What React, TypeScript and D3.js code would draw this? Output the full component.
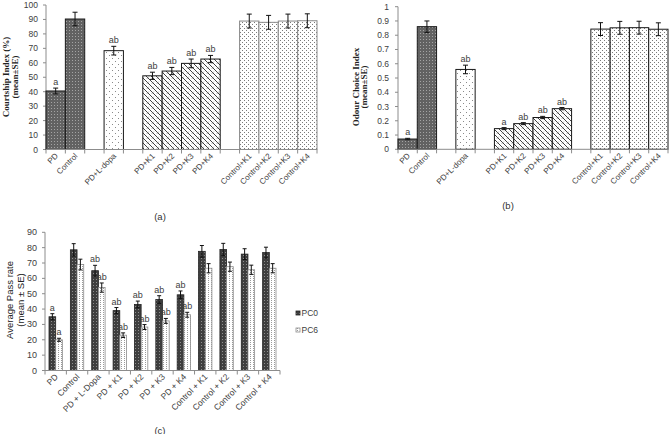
import React from "react";
import * as d3 from "d3";

// ---------- data: panels (a) and (b) ----------
const catsAB = ["PD", "Control", "", "PD+L-dopa", "", "PD+K1", "PD+K2", "PD+K3", "PD+K4", "", "Control+K1", "Control+K2", "Control+K3", "Control+K4"];
const groupAB = ["pd", "ctrl", "", "ldopa", "", "k", "k", "k", "k", "", "ck", "ck", "ck", "ck"];

const courtship = [40.5, 90.3, null, 68.4, null, 51, 54.3, 59.6, 62.6, null, 88.9, 88, 88.9, 89.1];
const courtshipErr = [2, 4.7, null, 3, null, 2.5, 2.5, 3, 2.5, null, 4.8, 4.8, 4.8, 4.8];
const courtshipSig = ["a", "", "", "ab", "", "ab", "ab", "ab", "ab", "", "", "", "", ""];
const courtshipTicks = [0, 10, 20, 30, 40, 50, 60, 70, 80, 90, 100];

const odour = [0.072, 0.86, null, 0.56, null, 0.145, 0.18, 0.223, 0.285, null, 0.843, 0.852, 0.853, 0.842];
const odourErr = [0.005, 0.04, null, 0.03, null, 0.007, 0.007, 0.008, 0.008, null, 0.045, 0.045, 0.045, 0.045];
const odourSig = ["a", "", "", "ab", "", "a", "ab", "ab", "ab", "", "", "", "", ""];
const odourTicks = [0, 0.1, 0.2, 0.3, 0.4, 0.5, 0.6, 0.7, 0.8, 0.9, 1];

// ---------- data: panel (c) ----------
const catsC = ["PD", "Control", "PD + L-Dopa", "PD + K1", "PD + K2", "PD + K3", "PD + K4", "Control + K1", "Control + K2", "Control + K3", "Control + K4"];
const seriesC = ["PC0", "PC6"];
const pc0 = [35, 78.6, 65, 39, 43, 46.2, 49.3, 77.6, 78.8, 75.8, 76.8];
const pc0Err = [2, 4, 3.5, 2, 2.2, 2.5, 2.5, 3.8, 4, 3.5, 3.5];
const pc0Sig = ["a", "", "ab", "ab", "ab", "ab", "ab", "", "", "", ""];
const pc6 = [20, 69, 54, 23, 28.3, 32.3, 36.3, 66.6, 67.6, 65.6, 66.6];
const pc6Err = [1, 3.5, 3, 1.5, 1.6, 1.6, 1.6, 3, 3, 3, 3];
const pc6Sig = ["a", "", "ab", "ab", "ab", "ab", "ab", "", "", "", ""];
const passTicks = [0, 10, 20, 30, 40, 50, 60, 70, 80, 90];

const SANS = "'Liberation Sans', Arial, sans-serif";
const SERIF = "'Liberation Serif', 'Times New Roman', serif";
const TXT = "#404040";
const AX = "#8c8c8c";

const fillFor: Record<string, string> = {
  pd: "url(#pDark)",
  ctrl: "url(#pDark)",
  ldopa: "url(#pSparse)",
  k: "url(#pHatch)",
  ck: "url(#pDense)",
};

function Patterns() {
  return (
    <defs>
      <pattern id="pDark" width="3" height="3" patternUnits="userSpaceOnUse">
        <rect width="3" height="3" fill="#626262" />
        <rect width="1" height="1" fill="#a4a4a4" />
      </pattern>
      <pattern id="pSparse" width="6" height="6" patternUnits="userSpaceOnUse">
        <rect width="6" height="6" fill="#fff" />
        <rect x="1" y="1" width="1" height="1" fill="#8a8a8a" />
        <rect x="4" y="4" width="1" height="1" fill="#8a8a8a" />
      </pattern>
      <pattern id="pHatch" width="5" height="5" patternUnits="userSpaceOnUse">
        <rect width="5" height="5" fill="#fff" />
        <path d="M0,0 L5,5 M-1,4 L1,6 M4,-1 L6,1" stroke="#2a2a2a" strokeWidth="0.9" />
        <path d="M1.5,4 L4,1.5" stroke="#888" strokeWidth="0.6" />
      </pattern>
      <pattern id="pDense" width="4" height="4" patternUnits="userSpaceOnUse">
        <rect width="4" height="4" fill="#fff" />
        <rect x="0" y="0" width="1" height="1" fill="#7a7a7a" />
        <rect x="2" y="2" width="1" height="1" fill="#7a7a7a" />
      </pattern>
      <pattern id="pC0" width="3" height="3" patternUnits="userSpaceOnUse">
        <rect width="3" height="3" fill="#3e3e3e" />
        <rect width="1" height="1" fill="#8e8e8e" />
      </pattern>
      <pattern id="pC6" width="3" height="2" patternUnits="userSpaceOnUse">
        <rect width="3" height="2" fill="#fff" />
        <rect x="1" y="0" width="1" height="1" fill="#9a9a9a" />
      </pattern>
    </defs>
  );
}

type SingleProps = {
  x0: number; x1: number; yTop: number; yBottom: number;
  max: number; ticks: number[]; fmt: (v: number) => string;
  values: (number | null)[]; errs: (number | null)[]; sigs: string[];
  label1: string; label2: string; lx1: number; lx2: number; ly: number;
  ckStroke: string; tickRight: number;
};

function SinglePanel(p: SingleProps) {
  const x = d3.scaleBand<number>().domain(d3.range(catsAB.length)).range([p.x0, p.x1]).padding(0);
  const y = d3.scaleLinear().domain([0, p.max]).range([p.yBottom, p.yTop]);
  const bw = x.bandwidth();
  return (
    <g>
      {/* y axis label */}
      <text transform={`translate(${p.lx1},${p.ly}) rotate(-90)`} textAnchor="middle" dominantBaseline="central"
        fontFamily={SERIF} fontWeight="bold" fontSize={9} fill="#222">{p.label1}</text>
      <text transform={`translate(${p.lx2},${p.ly}) rotate(-90)`} textAnchor="middle" dominantBaseline="central"
        fontFamily={SERIF} fontWeight="bold" fontSize={9} fill="#222">{p.label2}</text>
      {/* y ticks */}
      {p.ticks.map((t) => (
        <g key={t}>
          <line x1={p.x0 - 3} x2={p.x0} y1={y(t)} y2={y(t)} stroke={AX} />
          <text x={p.tickRight} y={y(t)} textAnchor="end" dominantBaseline="central" fontFamily={SANS} fontSize={8.5} fill={TXT}>{p.fmt(t)}</text>
        </g>
      ))}
      <line x1={p.x0} x2={p.x0} y1={y(p.max)} y2={p.yBottom} stroke={AX} />
      {/* bars */}
      {p.values.map((v, i) => {
        if (v == null) return null;
        const g = groupAB[i];
        const top = y(v);
        const e = p.errs[i] ?? 0;
        const cx = (x(i) as number) + bw / 2;
        return (
          <g key={i}>
            <rect x={x(i)} y={top} width={bw} height={p.yBottom - top} fill={fillFor[g]}
              stroke={g === "ck" ? p.ckStroke : "#1a1a1a"} strokeWidth={1} />
            <line x1={cx} x2={cx} y1={y(v + e)} y2={y(v - e)} stroke="#111" />
            <line x1={cx - 2.5} x2={cx + 2.5} y1={y(v + e)} y2={y(v + e)} stroke="#111" />
            <line x1={cx - 2.5} x2={cx + 2.5} y1={y(v - e)} y2={y(v - e)} stroke="#111" />
            {p.sigs[i] && (
              <text x={cx} y={y(v + e) - 3} textAnchor="middle" fontFamily={SANS} fontSize={9} fill={TXT}>{p.sigs[i]}</text>
            )}
          </g>
        );
      })}
      {/* x axis */}
      <line x1={p.x0} x2={p.x1} y1={p.yBottom} y2={p.yBottom} stroke={AX} />
      {d3.range(catsAB.length + 1).map((i) => {
        const xx = p.x0 + i * bw;
        return <line key={i} x1={xx} x2={xx} y1={p.yBottom} y2={p.yBottom + 4} stroke={AX} />;
      })}
      {catsAB.map((c, i) => c && (
        <text key={i} transform={`translate(${(x(i) as number) + bw / 2 + 3},${p.yBottom + 7}) rotate(-45)`}
          textAnchor="end" fontFamily={SANS} fontSize={8} fill={TXT}>{c}</text>
      ))}
    </g>
  );
}

function PanelC() {
  const x0 = 45, x1 = 280, yTop = 232.3, yBottom = 370.5;
  const x = d3.scaleBand<string>().domain(catsC).range([x0, x1]).padding(0);
  const xs = d3.scaleBand<string>().domain(seriesC).range([0, x.bandwidth()]).paddingInner(0).paddingOuter(0.6);
  const y = d3.scaleLinear().domain([0, 90]).range([yBottom, yTop]);
  const sw = xs.bandwidth();
  const series = [
    { name: "PC0", vals: pc0, errs: pc0Err, sigs: pc0Sig, fill: "url(#pC0)", stroke: "#222" },
    { name: "PC6", vals: pc6, errs: pc6Err, sigs: pc6Sig, fill: "url(#pC6)", stroke: "#8a8a8a" },
  ];
  return (
    <g>
      <text transform={`translate(9,300) rotate(-90)`} textAnchor="middle" dominantBaseline="central"
        fontFamily={SANS} fontSize={9.5} fill="#222">Average Pass rate</text>
      <text transform={`translate(20,300) rotate(-90)`} textAnchor="middle" dominantBaseline="central"
        fontFamily={SANS} fontSize={9.5} fill="#222">(mean ± SE)</text>
      {passTicks.map((t) => (
        <g key={t}>
          <line x1={x0 - 3} x2={x0} y1={y(t)} y2={y(t)} stroke={AX} />
          <text x={37} y={y(t)} textAnchor="end" dominantBaseline="central" fontFamily={SANS} fontSize={9} fill={TXT}>{t}</text>
        </g>
      ))}
      <line x1={x0} x2={x0} y1={yTop} y2={yBottom} stroke={AX} />
      {catsC.map((c, i) =>
        series.map((s) => {
          const bx = (x(c) as number) + (xs(s.name) as number);
          const v = s.vals[i], e = s.errs[i];
          const cx = bx + sw / 2;
          return (
            <g key={c + s.name}>
              <rect x={bx} y={y(v)} width={sw} height={yBottom - y(v)} fill={s.fill} stroke={s.stroke} strokeWidth={0.8} />
              <line x1={cx} x2={cx} y1={y(v + e)} y2={y(v - e)} stroke="#111" />
              <line x1={cx - 2} x2={cx + 2} y1={y(v + e)} y2={y(v + e)} stroke="#111" />
              <line x1={cx - 2} x2={cx + 2} y1={y(v - e)} y2={y(v - e)} stroke="#111" />
              {s.sigs[i] && (
                <text x={cx} y={y(v + e) - 3} textAnchor="middle" fontFamily={SANS} fontSize={9} fill={TXT}>{s.sigs[i]}</text>
              )}
            </g>
          );
        })
      )}
      <line x1={x0} x2={x1} y1={yBottom} y2={yBottom} stroke={AX} />
      {d3.range(catsC.length + 1).map((i) => {
        const xx = x0 + i * x.bandwidth();
        return <line key={i} x1={xx} x2={xx} y1={yBottom} y2={yBottom + 4} stroke={AX} />;
      })}
      {catsC.map((c) => (
        <text key={c} transform={`translate(${(x(c) as number) + x.bandwidth() / 2 + 3},${yBottom + 7}) rotate(-45)`}
          textAnchor="end" fontFamily={SANS} fontSize={8.5} fill={TXT}>{c}</text>
      ))}
      {/* legend */}
      {series.map((s, i) => (
        <g key={s.name} transform={`translate(296,${313 + i * 17})`}>
          <rect x={0} y={-2} width={4} height={4} fill={s.fill} stroke={s.stroke} strokeWidth={0.8} />
          <text x={5.5} y={0} dominantBaseline="central" fontFamily={SANS} fontSize={8.5} fill={TXT}>{s.name}</text>
        </g>
      ))}
    </g>
  );
}

export default function App() {
  return (
    <div style={{ position: "absolute", left: 0, top: 0 }}>
      <svg width={670} height={434} style={{ display: "block", background: "#fff" }}>
        <Patterns />
        <SinglePanel x0={46} x1={317} yTop={5} yBottom={149.5} max={100} ticks={courtshipTicks}
          fmt={(v) => String(v)} values={courtship} errs={courtshipErr} sigs={courtshipSig}
          label1="Courtship Index (%)" label2="(mean±SE)" lx1={6} lx2={14.5} ly={77} ckStroke="#8a8a8a" tickRight={38} />
        <SinglePanel x0={398} x1={668} yTop={6.7} yBottom={149.3} max={1} ticks={odourTicks}
          fmt={(v) => d3.format("~g")(+v.toFixed(1))} values={odour} errs={odourErr} sigs={odourSig}
          label1="Odour Choice Index" label2="(mean±SE)" lx1={355.5} lx2={364} ly={87} ckStroke="#1a1a1a" tickRight={389} />
        <PanelC />
        <text x={160} y={216} textAnchor="middle" dominantBaseline="central" fontFamily={SANS} fontSize={9.5} fill="#333">(a)</text>
        <text x={508} y={205} textAnchor="middle" dominantBaseline="central" fontFamily={SANS} fontSize={9.5} fill="#333">(b)</text>
        <text x={160} y={430} textAnchor="middle" dominantBaseline="central" fontFamily={SANS} fontSize={9.5} fill="#333">(c)</text>
      </svg>
    </div>
  );
}
